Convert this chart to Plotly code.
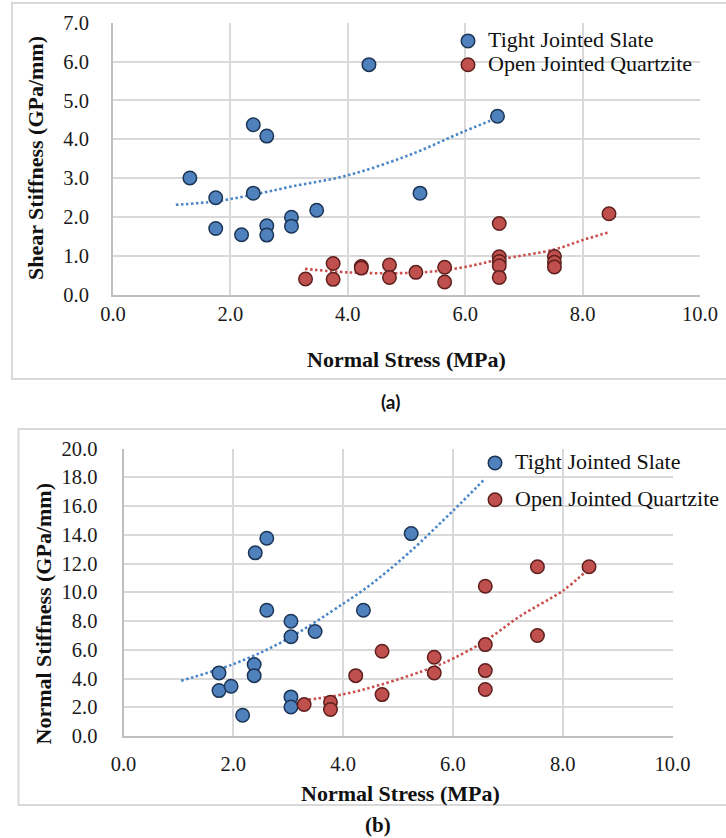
import plotly.graph_objects as go

W, H = 726, 838

# ---------------- data: chart (a) shear stiffness ----------------
a_slate_x = [1.31, 1.75, 1.75, 2.19, 2.39, 2.39, 2.62, 2.62, 2.62, 3.04, 3.04, 3.47, 4.36, 5.23, 6.55]
a_slate_y = [3.00, 2.49, 1.70, 1.54, 4.37, 2.61, 4.08, 1.77, 1.53, 1.99, 1.76, 2.17, 5.92, 2.61, 4.59]
a_quartz_x = [3.28, 3.75, 3.75, 4.23, 4.23, 4.71, 4.71, 5.16, 5.65, 5.65, 6.58, 6.58, 6.58, 6.58, 6.58, 7.52, 7.52, 7.52, 8.45]
a_quartz_y = [0.40, 0.80, 0.39, 0.72, 0.68, 0.76, 0.44, 0.57, 0.70, 0.32, 1.83, 0.97, 0.85, 0.74, 0.44, 0.98, 0.83, 0.71, 2.08]
# trendlines (polynomial)
a_slate_trend_x = [1.07, 1.75, 2.39, 3.04, 4.00, 5.06, 5.98, 6.55]
a_slate_trend_y = [2.31, 2.40, 2.57, 2.78, 3.07, 3.60, 4.20, 4.55]
a_quartz_trend_x = [3.27, 4.00, 4.89, 5.50, 6.00, 6.58, 7.52, 8.00, 8.44]
a_quartz_trend_y = [0.66, 0.57, 0.55, 0.60, 0.71, 0.90, 1.16, 1.40, 1.60]

# ---------------- data: chart (b) normal stiffness ----------------
b_slate_x = [1.74, 1.74, 1.96, 2.17, 2.38, 2.38, 2.40, 2.61, 2.61, 3.05, 3.05, 3.05, 3.05, 3.49, 4.37, 5.24]
b_slate_y = [4.39, 3.16, 3.46, 1.44, 4.97, 4.20, 12.74, 13.76, 8.75, 7.98, 6.90, 2.72, 2.02, 7.27, 8.75, 14.08]
b_quartz_x = [3.29, 3.77, 3.77, 4.23, 4.71, 4.71, 5.66, 5.66, 6.59, 6.59, 6.59, 6.59, 7.54, 7.54, 8.48]
b_quartz_y = [2.19, 2.35, 1.84, 4.20, 5.90, 2.88, 5.48, 4.39, 10.42, 6.36, 4.55, 3.23, 11.77, 6.99, 11.77]
b_slate_trend_x = [1.05, 2.00, 2.91, 4.00, 4.49, 5.20, 6.01, 6.57]
b_slate_trend_y = [3.85, 5.00, 6.59, 9.20, 10.50, 12.75, 15.70, 17.84]
b_quartz_trend_x = [3.37, 4.00, 4.67, 5.66, 6.01, 6.59, 7.22, 8.00, 8.45]
b_quartz_trend_y = [2.53, 2.90, 3.55, 4.81, 5.40, 6.62, 8.33, 10.10, 11.55]

x_ticks = [0, 2, 4, 6, 8, 10]
a_y_ticks = [0, 1, 2, 3, 4, 5, 6, 7]
b_y_ticks = [0, 2, 4, 6, 8, 10, 12, 14, 16, 18, 20]

names = ["Tight Jointed Slate", "Open Jointed Quartzite"]

BLUE, BLUE_EDGE, BLUE_TREND = "#4f81bd", "#1c3556", "#4a86c8"
RED, RED_EDGE, RED_TREND = "#c0504d", "#5e1f1d", "#c9504d"
SERIF = "Liberation Serif, Times New Roman, serif"


def px(x):
    return x / W


def py(y):
    return 1 - y / H


def big(t):
    return '<span style="font-size:22px;font-family:Liberation Serif, serif">' + t + '</span>'


fig = go.Figure()

TREND_DASH = "2.5px,2.5px"


def add_chart(xa, ya, leg, sx, sy, qx, qy, stx, sty, qtx, qty):
    fig.add_trace(go.Scatter(x=stx, y=sty, mode="lines", line=dict(color=BLUE_TREND, width=2.6, dash=TREND_DASH, shape="spline"),
                             xaxis=xa, yaxis=ya, showlegend=False, hoverinfo="skip"))
    fig.add_trace(go.Scatter(x=qtx, y=qty, mode="lines", line=dict(color=RED_TREND, width=2.6, dash=TREND_DASH, shape="spline"),
                             xaxis=xa, yaxis=ya, showlegend=False, hoverinfo="skip"))
    fig.add_trace(go.Scatter(x=sx, y=sy, mode="markers", name=big(names[0]), legend=leg, legendgroup=leg + "s",
                             marker=dict(size=13.5, color=BLUE, line=dict(color=BLUE_EDGE, width=1.5)),
                             xaxis=xa, yaxis=ya))
    fig.add_trace(go.Scatter(x=qx, y=qy, mode="markers", name=big(names[1]), legend=leg, legendgroup=leg + "q",
                             marker=dict(size=13.5, color=RED, line=dict(color=RED_EDGE, width=1.5)),
                             xaxis=xa, yaxis=ya))


add_chart("x", "y", "legend", a_slate_x, a_slate_y, a_quartz_x, a_quartz_y,
          a_slate_trend_x, a_slate_trend_y, a_quartz_trend_x, a_quartz_trend_y)
add_chart("x2", "y2", "legend2", b_slate_x, b_slate_y, b_quartz_x, b_quartz_y,
          b_slate_trend_x, b_slate_trend_y, b_quartz_trend_x, b_quartz_trend_y)

GRID = "#d9d9d9"
AXL = "#bfbfbf"
tickfont = dict(family=SERIF, size=20.5, color="#1a1a1a")

common = dict(showgrid=True, gridcolor=GRID, gridwidth=2, zeroline=False, showline=True, automargin=False,
              linecolor=AXL, linewidth=2, tickfont=tickfont, tickformat=".1f", ticks="")

fig.update_layout(
    width=W, height=H, margin=dict(l=0, r=0, t=0, b=0, autoexpand=False),
    paper_bgcolor="white", plot_bgcolor="white",
    xaxis=dict(domain=[px(113), px(700)], range=[0, 10], tickvals=x_ticks, anchor="y",
               ticklabelstandoff=0, **common),
    yaxis=dict(domain=[py(294.5), py(22.7)], range=[0, 7], tickvals=a_y_ticks, anchor="x",
               ticklabelstandoff=18, **common),
    xaxis2=dict(domain=[px(123.5), px(672.5)], range=[0, 10], tickvals=x_ticks, anchor="y2",
                ticklabelstandoff=8, **common),
    yaxis2=dict(domain=[py(736), py(448.5)], range=[0, 20], tickvals=b_y_ticks, anchor="x2",
                ticklabelstandoff=20, **common),
    legend=dict(x=px(448), y=py(24), xanchor="left", yanchor="top", bgcolor="rgba(0,0,0,0)",
                font=dict(family=SERIF, size=16, color="#111"), tracegroupgap=0, itemwidth=30),
    legend2=dict(x=px(475), y=py(446), xanchor="left", yanchor="top", bgcolor="rgba(0,0,0,0)",
                 font=dict(family=SERIF, size=16, color="#111"), tracegroupgap=13, itemwidth=30),
    showlegend=True,
)

# chart frames
fig.add_shape(type="rect", xref="paper", yref="paper", x0=px(12), y0=py(379), x1=px(745), y1=py(3),
              line=dict(color=GRID, width=2), layer="below")
fig.add_shape(type="rect", xref="paper", yref="paper", x0=px(18.5), y0=py(805), x1=px(745), y1=py(429),
              line=dict(color=GRID, width=2), layer="below")

title_font = dict(family=SERIF, size=22, color="#111")
ann = [
    dict(text="<b>Shear Stiffness (GPa/mm)</b>", x=px(35), y=py(158), textangle=-90),
    dict(text="<b>Normal Stress (MPa)</b>", x=px(407), y=py(359)),
    dict(text="<b>Normal Stiffness (GPa/mm)</b>", x=px(42.5), y=py(614), textangle=-90),
    dict(text="<b>Normal Stress (MPa)</b>", x=px(400), y=py(793)),
]
for a in ann:
    fig.add_annotation(xref="paper", yref="paper", showarrow=False, xanchor="center", yanchor="middle",
                       font=title_font, **a)

fig.add_annotation(text="<b>(a)</b>", xref="paper", yref="paper", x=px(391), y=py(401), showarrow=False,
                   xanchor="center", yanchor="middle", font=dict(family="Lato, Open Sans, sans-serif", size=19, color="#111"))
fig.add_annotation(text="<b>(b)</b>", xref="paper", yref="paper", x=px(378), y=py(825), showarrow=False,
                   xanchor="center", yanchor="middle", font=dict(family=SERIF, size=21, color="#111"))

fig.write_html("out.html", config={"displayModeBar": False},
               post_script="document.body.style.margin='0';document.body.style.overflow='hidden';")
